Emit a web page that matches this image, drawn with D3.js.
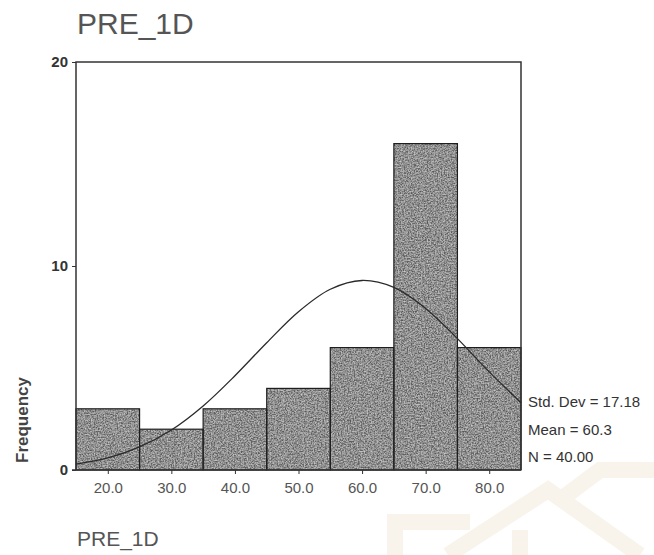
<!DOCTYPE html>
<html>
<head>
<meta charset="utf-8">
<script src="https://cdn.jsdelivr.net/npm/d3@7"></script>
<style>
  body { margin: 0; background: #fff; }
  svg { display: block; font-family: "Liberation Sans", Arial, sans-serif; }
</style>
</head>
<body>
<svg id="chart" width="654" height="555"></svg>
<script>
// histogram bins (lower edge) and counts
var binStarts = [15, 25, 35, 45, 55, 65, 75];
var binWidth = 10;
var counts = [3, 2, 3, 4, 6, 16, 6];

// normal curve, every 5 units
var curveX = [15, 20, 25, 30, 35, 40, 45, 50, 55, 60, 65, 70, 75, 80, 85];
var curveY = [0.29, 0.59, 1.13, 1.96, 3.14, 4.62, 6.24, 7.76, 8.86, 9.29, 8.95, 7.92, 6.44, 4.81, 3.30];

var xTicks = [20, 30, 40, 50, 60, 70, 80];
var yTicks = [0, 10, 20];
var statLines = ['Std. Dev = 17.18', 'Mean = 60.3', 'N = 40.00'];

var svg = d3.select('#chart');

var x = d3.scaleLinear().domain([15, 85]).range([76, 521]);
var y = d3.scaleLinear().domain([0, 20]).range([470, 62]);

// grainy fill like the scanned print
var defs = svg.append('defs');
var filt = defs.append('filter').attr('id', 'grain')
    .attr('x', 0).attr('y', 0).attr('width', 1).attr('height', 1);
filt.append('feTurbulence').attr('type', 'fractalNoise')
    .attr('baseFrequency', 0.8).attr('numOctaves', 2).attr('seed', 4).attr('result', 'n1');
filt.append('feColorMatrix').attr('in', 'n1').attr('type', 'matrix')
    .attr('values', '0 0 0 0 0.2  0 0 0 0 0.2  0 0 0 0 0.2  1.8 0 0 0 -0.5')
    .attr('result', 'dark');
filt.append('feTurbulence').attr('type', 'fractalNoise')
    .attr('baseFrequency', 0.7).attr('numOctaves', 2).attr('seed', 11).attr('result', 'n2');
filt.append('feColorMatrix').attr('in', 'n2').attr('type', 'matrix')
    .attr('values', '0 0 0 0 0.62  0 0 0 0 0.62  0 0 0 0 0.62  1.8 0 0 0 -0.6')
    .attr('result', 'light');
var merge = filt.append('feMerge').attr('result', 'mix');
merge.append('feMergeNode').attr('in', 'SourceGraphic');
merge.append('feMergeNode').attr('in', 'dark');
merge.append('feMergeNode').attr('in', 'light');
filt.append('feComposite').attr('in', 'mix').attr('in2', 'SourceGraphic').attr('operator', 'in');

// faint watermark
var wm = svg.append('g').attr('fill', 'none').attr('stroke', '#f8f3eb').attr('stroke-width', 16);
wm.append('path').attr('d', 'M395,555 L395,522 L470,522');
wm.append('path').attr('d', 'M448,555 L548,490 L640,555');
wm.append('path').attr('d', 'M560,500 L600,470 L654,470');
wm.append('path').attr('d', 'M520,555 L520,530');

// title
svg.append('text').attr('x', 77).attr('y', 34)
    .attr('font-size', 30).attr('fill', '#555').text('PRE_1D');

// bars
svg.append('g').selectAll('rect')
    .data(counts)
    .enter().append('rect')
    .attr('x', function(d, i) { return x(binStarts[i]); })
    .attr('y', function(d) { return y(d); })
    .attr('width', function(d, i) { return x(binStarts[i] + binWidth) - x(binStarts[i]); })
    .attr('height', function(d) { return y(0) - y(d); })
    .attr('fill', '#555')
    .attr('filter', 'url(#grain)');
svg.append('g').selectAll('rect')
    .data(counts)
    .enter().append('rect')
    .attr('x', function(d, i) { return x(binStarts[i]); })
    .attr('y', function(d) { return y(d); })
    .attr('width', function(d, i) { return x(binStarts[i] + binWidth) - x(binStarts[i]); })
    .attr('height', function(d) { return y(0) - y(d); })
    .attr('fill', 'none')
    .attr('stroke', '#1e1e1e')
    .attr('stroke-width', 1.2);

// frame: left axis, top and right border
svg.append('path')
    .attr('d', 'M' + x(15) + ',' + y(0) + 'V' + y(20) + 'H' + x(85) + 'V' + y(0))
    .attr('fill', 'none').attr('stroke', '#333').attr('stroke-width', 1.5);
svg.append('line')
    .attr('x1', x(15) - 4).attr('x2', x(85)).attr('y1', y(0)).attr('y2', y(0))
    .attr('stroke', '#333').attr('stroke-width', 1.5);

// normal curve
var line = d3.line()
    .x(function(d, i) { return x(curveX[i]); })
    .y(function(d) { return y(d); })
    .curve(d3.curveCatmullRom);
svg.append('path').datum(curveY)
    .attr('d', line)
    .attr('fill', 'none').attr('stroke', '#2a2a2a').attr('stroke-width', 1.3);

// y axis
var yAxis = d3.axisLeft(y).tickValues(yTicks).tickSize(4).tickFormat(d3.format('d'));
var gy = svg.append('g').attr('transform', 'translate(' + x(15) + ',0)').call(yAxis);
gy.select('.domain').remove();
gy.selectAll('line').attr('stroke', '#333');
gy.selectAll('text').attr('font-size', 15).attr('font-weight', 'bold')
    .attr('fill', '#333').attr('x', -8);

// x axis
var xAxis = d3.axisBottom(x).tickValues(xTicks).tickSize(4).tickFormat(d3.format('.1f'));
var gx = svg.append('g').attr('transform', 'translate(0,' + y(0) + ')').call(xAxis);
gx.select('.domain').remove();
gx.selectAll('line').attr('stroke', '#333');
gx.selectAll('text').attr('font-size', 15).attr('fill', '#555').attr('y', 12).attr('dy', '0.71em');

// axis titles
svg.append('text')
    .attr('transform', 'translate(28,420) rotate(-90)')
    .attr('text-anchor', 'middle')
    .attr('font-size', 17).attr('font-weight', 'bold').attr('fill', '#444').text('Frequency');
svg.append('text').attr('x', 77).attr('y', 546)
    .attr('font-size', 21).attr('fill', '#555').text('PRE_1D');

// statistics
svg.append('g').selectAll('text')
    .data(statLines)
    .enter().append('text')
    .attr('x', 528)
    .attr('y', function(d, i) { return 407 + i * 27.5; })
    .attr('font-size', 15).attr('fill', '#333')
    .text(function(d) { return d; });
</script>
</body>
</html>
